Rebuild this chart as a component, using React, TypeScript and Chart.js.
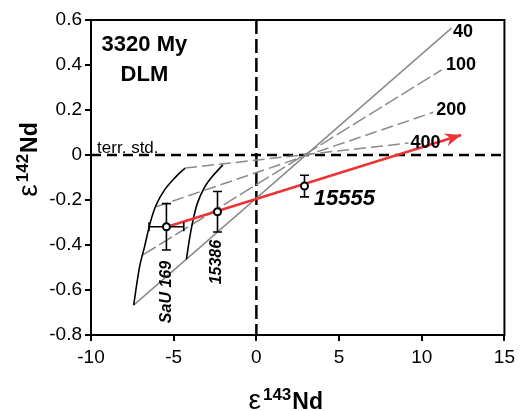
import React, { useEffect, useRef } from "react";
import { Chart, registerables } from "chart.js";

Chart.register(...registerables);

const FONT = '"Liberation Sans", Arial, Helvetica, sans-serif';

// Axis ranges and ticks
const X_MIN = -10;
const X_MAX = 15;
const X_STEP = 5;
const Y_MIN = -0.8;
const Y_MAX = 0.6;
const Y_STEP = 0.2;

// Isochrons, labelled by differentiation age offset
const isoLabels = ["40", "100", "200", "400"];
const isoStartX = [-7.42, -6.86, -6.06, -4.31];
const isoStartY = [-0.667, -0.444, -0.23, -0.058];
const isoEndX = [11.8, 11.2, 10.7, 9.2];
const isoEndY = [0.564, 0.378, 0.19, 0.053];
const isoLabelX = [12.5, 12.38, 11.78, 10.23];
const isoLabelY = [0.547, 0.4, 0.2, 0.053];

// Mixing curves below the isochrons
const sauCurveX = [-4.31, -4.86, -5.56, -6.06, -6.4, -6.76, -7.06, -7.42];
const sauCurveY = [-0.058, -0.096, -0.156, -0.222, -0.296, -0.407, -0.496, -0.667];
const curve15386X = [-2.03, -2.67, -3.17, -3.57, -3.87, -4.07, -4.23];
const curve15386Y = [-0.044, -0.096, -0.148, -0.215, -0.304, -0.385, -0.464];

// Samples with 2-sigma errors
const sampleNames = ["SaU 169", "15386", "15555"];
const sampleX = [-5.44, -2.35, 2.91];
const sampleY = [-0.319, -0.252, -0.138];
const sampleErrX = [1.05, 0, 0];
const sampleErrY = [0.103, 0.09, 0.048];
const sampleLabelX = [-5.44, -2.39, 3.47];
const sampleLabelY = [-0.609, -0.476, -0.196];

// Trend arrow through the samples
const trendX = [-5.44, 12.38];
const trendY = [-0.32, 0.089];

const GRAY = "#8a8a8a";
const RED = "#ec3434";

const pts = (xs: number[], ys: number[]) => xs.map((x, i) => ({ x, y: ys[i] }));

const SAMPLE_INDEX = 0;

const decor = {
  id: "decor",
  beforeDatasetsDraw(chart: any) {
    const { ctx, chartArea: a, scales } = chart;
    const x0 = scales.x.getPixelForValue(0);
    const y0 = scales.y.getPixelForValue(0);
    ctx.save();
    ctx.strokeStyle = "#000";
    ctx.lineWidth = 2.5;
    ctx.setLineDash([10, 6]);
    ctx.beginPath();
    ctx.moveTo(a.left, y0);
    ctx.lineTo(a.right, y0);
    ctx.stroke();
    ctx.setLineDash([14, 5]);
    ctx.beginPath();
    ctx.moveTo(x0, a.top);
    ctx.lineTo(x0, a.bottom);
    ctx.stroke();
    ctx.restore();

    ctx.save();
    ctx.fillStyle = "#000";
    ctx.font = `17px ${FONT}`;
    ctx.textAlign = "left";
    ctx.textBaseline = "alphabetic";
    ctx.fillText("terr. std.", scales.x.getPixelForValue(-9.63), scales.y.getPixelForValue(0.009));
    ctx.restore();
  },
  beforeDatasetDraw(chart: any, args: any) {
    if (args.index !== SAMPLE_INDEX) return;
    const { ctx, scales } = chart;
    ctx.save();
    ctx.strokeStyle = "#000";
    ctx.lineWidth = 1.6;
    const cap = 4.5;
    sampleX.forEach((sx, i) => {
      const px = scales.x.getPixelForValue(sx);
      const py = scales.y.getPixelForValue(sampleY[i]);
      if (sampleErrY[i] > 0) {
        const t = scales.y.getPixelForValue(sampleY[i] + sampleErrY[i]);
        const b = scales.y.getPixelForValue(sampleY[i] - sampleErrY[i]);
        ctx.beginPath();
        ctx.moveTo(px, t);
        ctx.lineTo(px, b);
        ctx.moveTo(px - cap, t);
        ctx.lineTo(px + cap, t);
        ctx.moveTo(px - cap, b);
        ctx.lineTo(px + cap, b);
        ctx.stroke();
      }
      if (sampleErrX[i] > 0) {
        const l = scales.x.getPixelForValue(sx - sampleErrX[i]);
        const r = scales.x.getPixelForValue(sx + sampleErrX[i]);
        ctx.beginPath();
        ctx.moveTo(l, py);
        ctx.lineTo(r, py);
        ctx.moveTo(l, py - cap);
        ctx.lineTo(l, py + cap);
        ctx.moveTo(r, py - cap);
        ctx.lineTo(r, py + cap);
        ctx.stroke();
      }
    });
    ctx.restore();
  },
  afterDatasetsDraw(chart: any) {
    const { ctx, chartArea: a, scales } = chart;
    const X = (v: number) => scales.x.getPixelForValue(v);
    const Y = (v: number) => scales.y.getPixelForValue(v);

    // arrow head at the end of the trend
    const x1 = X(trendX[0]), y1 = Y(trendY[0]);
    const x2 = X(trendX[1]), y2 = Y(trendY[1]);
    const ang = Math.atan2(y2 - y1, x2 - x1);
    const len = 16, half = 6.5;
    ctx.save();
    ctx.fillStyle = RED;
    ctx.beginPath();
    ctx.moveTo(x2, y2);
    ctx.lineTo(x2 - len * Math.cos(ang) + half * Math.sin(ang), y2 - len * Math.sin(ang) - half * Math.cos(ang));
    ctx.lineTo(x2 - len * 0.7 * Math.cos(ang), y2 - len * 0.7 * Math.sin(ang));
    ctx.lineTo(x2 - len * Math.cos(ang) - half * Math.sin(ang), y2 - len * Math.sin(ang) + half * Math.cos(ang));
    ctx.closePath();
    ctx.fill();
    ctx.restore();

    ctx.save();
    ctx.fillStyle = "#000";
    ctx.textBaseline = "middle";
    ctx.textAlign = "center";

    // isochron labels
    ctx.font = `bold 18px ${FONT}`;
    isoLabels.forEach((t, i) => ctx.fillText(t, X(isoLabelX[i]), Y(isoLabelY[i])));

    // sample labels
    ctx.font = `italic bold 22px ${FONT}`;
    ctx.textAlign = "left";
    ctx.fillText(sampleNames[2], X(sampleLabelX[2]), Y(sampleLabelY[2]));
    ctx.font = `italic bold 16px ${FONT}`;
    ctx.textAlign = "center";
    for (let i = 0; i < 2; i++) {
      ctx.save();
      ctx.translate(X(sampleLabelX[i]), Y(sampleLabelY[i]));
      ctx.rotate(-Math.PI / 2);
      ctx.fillText(sampleNames[i], 0, 0);
      ctx.restore();
    }

    // panel header
    ctx.font = `bold 22px ${FONT}`;
    ctx.fillText("3320 My", X(-6.77), Y(0.489));
    ctx.fillText("DLM", X(-6.77), Y(0.356));

    // frame
    ctx.strokeStyle = "#000";
    ctx.lineWidth = 2;
    ctx.strokeRect(a.left, a.top, a.right - a.left, a.bottom - a.top);
    ctx.restore();
  },
  afterDraw(chart: any) {
    const { ctx, chartArea: a } = chart;
    const parts = [
      { font: `28px ${FONT}`, rise: 0, gap: 2 },
      { font: `bold 17px ${FONT}`, rise: 9, gap: 1 },
      { font: `bold 23px ${FONT}`, rise: 0, gap: 0 },
    ];
    const drawTitle = (texts: string[]) => {
      let total = 0;
      const widths = texts.map((t, i) => {
        ctx.font = parts[i].font;
        const w = ctx.measureText(t).width;
        total += w + parts[i].gap;
        return w;
      });
      let cx = -total / 2;
      texts.forEach((t, i) => {
        ctx.font = parts[i].font;
        ctx.fillText(t, cx, -parts[i].rise);
        cx += widths[i] + parts[i].gap;
      });
    };
    ctx.save();
    ctx.fillStyle = "#000";
    ctx.textAlign = "left";
    ctx.textBaseline = "alphabetic";
    // x title
    ctx.save();
    ctx.translate((a.left + a.right) / 2 - 12, 409);
    drawTitle(["ε", "143", "Nd"]);
    ctx.restore();
    // y title
    ctx.save();
    ctx.translate(37, (a.top + a.bottom) / 2 - 18);
    ctx.rotate(-Math.PI / 2);
    drawTitle(["ε", "142", "Nd"]);
    ctx.restore();
    ctx.restore();
  },
};

const fmt = (v: number) => {
  const r = Math.round(v * 10) / 10;
  return r === 0 ? "0" : String(r);
};

export default function App() {
  const ref = useRef<HTMLCanvasElement | null>(null);

  useEffect(() => {
    if (!ref.current) return;
    const datasets: any[] = [
      {
        label: "samples",
        data: pts(sampleX, sampleY),
        showLine: false,
        pointRadius: 3.5,
        pointBackgroundColor: "#fff",
        pointBorderColor: "#000",
        pointBorderWidth: 2,
      },
      {
        label: "trend",
        data: pts(trendX, trendY),
        borderColor: RED,
        borderWidth: 2.5,
        pointRadius: 0,
      },
      {
        label: "SaU 169 curve",
        data: pts(sauCurveX, sauCurveY),
        borderColor: "#000",
        borderWidth: 1.6,
        pointRadius: 0,
        tension: 0.35,
      },
      {
        label: "15386 curve",
        data: pts(curve15386X, curve15386Y),
        borderColor: "#000",
        borderWidth: 1.6,
        pointRadius: 0,
        tension: 0.35,
      },
      ...isoLabels.map((l, i) => ({
        label: l,
        data: [
          { x: isoStartX[i], y: isoStartY[i] },
          { x: isoEndX[i], y: isoEndY[i] },
        ],
        borderColor: GRAY,
        borderWidth: 1.5,
        borderDash: i === 0 ? [] : i === 1 ? [15, 4] : [12, 5],
        pointRadius: 0,
      })),
    ];

    const chart = new Chart(ref.current, {
      type: "line",
      data: { datasets },
      plugins: [decor],
      options: {
        responsive: false,
        animation: false,
        events: [],
        layout: { padding: { top: 20, right: 11, left: 0, bottom: 0 } },
        plugins: { legend: { display: false }, tooltip: { enabled: false } },
        scales: {
          x: {
            type: "linear",
            min: X_MIN,
            max: X_MAX,
            afterFit: (s: any) => {
              s.height = 76;
            },
            ticks: {
              stepSize: X_STEP,
              color: "#000",
              font: { family: FONT, size: 19 },
              padding: 5,
              maxRotation: 0,
              callback: (v: any) => fmt(Number(v)),
            },
            grid: {
              display: true,
              drawOnChartArea: false,
              drawTicks: true,
              tickLength: 6,
              color: "#000",
              lineWidth: 2,
            },
            border: { display: true, color: "#000", width: 2 },
          },
          y: {
            type: "linear",
            min: Y_MIN,
            max: Y_MAX,
            afterFit: (s: any) => {
              s.width = 91;
            },
            ticks: {
              stepSize: Y_STEP,
              color: "#000",
              font: { family: FONT, size: 19 },
              padding: 3,
              callback: (v: any) => fmt(Number(v)),
            },
            grid: {
              display: true,
              drawOnChartArea: false,
              drawTicks: true,
              tickLength: 6,
              color: "#000",
              lineWidth: 2,
            },
            border: { display: true, color: "#000", width: 2 },
          },
        },
      } as any,
    });
    return () => chart.destroy();
  }, []);

  return (
    <div style={{ position: "fixed", left: 0, top: 0, width: 520, height: 411, background: "#fff" }}>
      <canvas ref={ref} width={520} height={411} />
    </div>
  );
}
